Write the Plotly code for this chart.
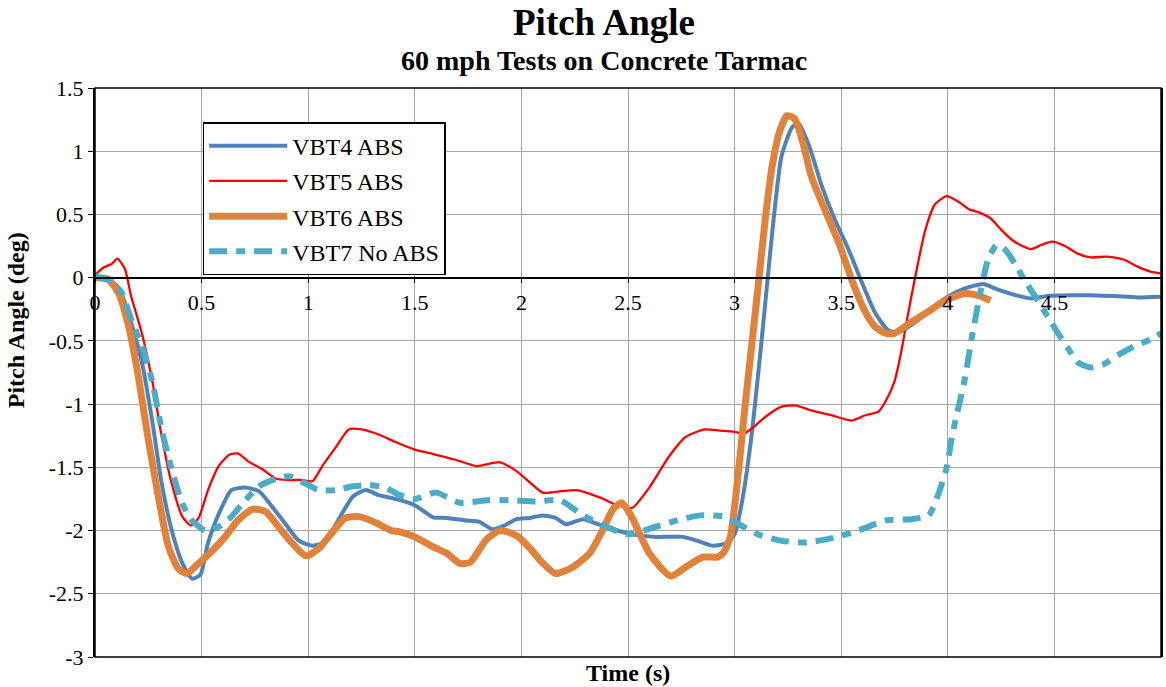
import plotly.graph_objects as go

# ---------------- data ----------------
t_vbt4 = [0, 0.05, 0.1, 0.125, 0.17, 0.22, 0.27, 0.31, 0.36, 0.41, 0.455, 0.494, 0.53, 0.58, 0.64, 0.705,
          0.77, 0.83, 0.89, 0.956, 1.02, 1.08, 1.14, 1.21, 1.27, 1.33, 1.41, 1.5, 1.586, 1.65, 1.742, 1.8,
          1.867, 1.92, 1.977, 2.04, 2.1, 2.16, 2.21, 2.29, 2.36, 2.43, 2.52, 2.63, 2.76, 2.84, 2.9, 2.96,
          3.0, 3.036, 3.08, 3.13, 3.176, 3.22, 3.27, 3.3, 3.35, 3.41, 3.47, 3.535, 3.6, 3.66, 3.72, 3.77,
          3.85, 3.925, 4.0, 4.08, 4.167, 4.22, 4.3, 4.39, 4.47, 4.58, 4.67, 4.78, 4.89, 5.0]
v_vbt4 = [0, -0.01, -0.06, -0.13, -0.36, -0.67, -1.15, -1.6, -2.0, -2.26, -2.38, -2.35, -2.10, -1.87, -1.68, -1.66,
          -1.69, -1.81, -1.94, -2.08, -2.12, -2.09, -1.92, -1.73, -1.68, -1.72, -1.75, -1.80, -1.895, -1.9, -1.92, -1.93,
          -1.99, -1.96, -1.91, -1.9, -1.88, -1.9, -1.95, -1.91, -1.95, -1.99, -2.03, -2.05, -2.05, -2.09, -2.12, -2.1,
          -2.03, -1.76, -1.24, -0.44, 0.35, 0.96, 1.19, 1.22, 1.04, 0.72, 0.46, 0.22, -0.05, -0.28, -0.415, -0.43,
          -0.35, -0.24, -0.15, -0.085, -0.05, -0.085, -0.13, -0.164, -0.145, -0.14, -0.14, -0.145, -0.156, -0.15]

t_vbt5 = [0, 0.04, 0.08, 0.105, 0.14, 0.17, 0.22, 0.27, 0.31, 0.36, 0.41, 0.45, 0.486, 0.53, 0.58, 0.63, 0.67,
          0.72, 0.78, 0.85, 0.91, 0.97, 1.02, 1.066, 1.13, 1.19, 1.25, 1.33, 1.41, 1.5, 1.586, 1.69, 1.79, 1.9,
          1.977, 2.04, 2.1, 2.18, 2.26, 2.37, 2.45, 2.52, 2.6, 2.69, 2.77, 2.86, 2.93, 3.0, 3.04, 3.08, 3.145,
          3.22, 3.285, 3.36, 3.457, 3.55, 3.61, 3.675, 3.72, 3.75, 3.78, 3.81, 3.85, 3.895, 3.94, 3.995, 4.05,
          4.1, 4.14, 4.2, 4.25, 4.3, 4.35, 4.39, 4.44, 4.49, 4.55, 4.61, 4.67, 4.75, 4.83, 4.89, 4.95, 5.0]
v_vbt5 = [0.02, 0.08, 0.11, 0.15, 0.07, -0.15, -0.44, -0.83, -1.23, -1.63, -1.89, -1.96, -1.90, -1.68, -1.49, -1.40, -1.39,
          -1.455, -1.51, -1.59, -1.60, -1.60, -1.61, -1.49, -1.34, -1.20, -1.20, -1.24, -1.30, -1.36, -1.395, -1.44, -1.49, -1.46,
          -1.53, -1.62, -1.70, -1.69, -1.68, -1.74, -1.80, -1.82, -1.66, -1.42, -1.26, -1.20, -1.21, -1.22, -1.235, -1.195, -1.10,
          -1.02, -1.01, -1.05, -1.09, -1.13, -1.09, -1.06, -0.94, -0.82, -0.6, -0.32, 0.03, 0.38, 0.58, 0.645, 0.60,
          0.54, 0.52, 0.47, 0.38, 0.30, 0.25, 0.225, 0.26, 0.285, 0.25, 0.19, 0.16, 0.167, 0.14, 0.087, 0.048, 0.034]

t_vbt6 = [0, 0.06, 0.11, 0.157, 0.2, 0.25, 0.3, 0.345, 0.39, 0.43, 0.486, 0.55, 0.61, 0.67, 0.74, 0.8, 0.86,
          0.925, 0.99, 1.05, 1.11, 1.175, 1.24, 1.32, 1.39, 1.43, 1.5, 1.586, 1.65, 1.71, 1.76, 1.836, 1.9,
          1.977, 2.04, 2.09, 2.16, 2.24, 2.32, 2.38, 2.43, 2.47, 2.52, 2.6, 2.7, 2.77, 2.85, 2.92, 2.95, 2.98,
          3.01, 3.05, 3.1, 3.145, 3.176, 3.21, 3.245, 3.28, 3.32, 3.36, 3.43, 3.49, 3.55, 3.61, 3.66, 3.71,
          3.75, 3.83, 3.925, 4.0, 4.08, 4.14, 4.2]
v_vbt6 = [0.0, -0.01, -0.12, -0.38, -0.75, -1.28, -1.76, -2.13, -2.30, -2.34, -2.26, -2.16, -2.05, -1.92, -1.83, -1.85, -1.97,
          -2.10, -2.20, -2.14, -2.02, -1.90, -1.89, -1.94, -2.0, -2.01, -2.05, -2.13, -2.18, -2.26, -2.25, -2.07, -2.0,
          -2.04, -2.14, -2.24, -2.34, -2.29, -2.18, -2.0, -1.83, -1.78, -1.9, -2.18, -2.36, -2.29, -2.21, -2.21, -2.17, -2.05,
          -1.66, -1.0, -0.23, 0.48, 0.88, 1.15, 1.28, 1.26, 1.07, 0.80, 0.51, 0.27, -0.02, -0.26, -0.39, -0.44,
          -0.44, -0.35, -0.25, -0.17, -0.125, -0.14, -0.18]

t_vbt7 = [0, 0.08, 0.125, 0.17, 0.22, 0.27, 0.31, 0.36, 0.41, 0.455, 0.517, 0.58, 0.64, 0.705, 0.77, 0.85, 0.91,
          0.99, 1.05, 1.13, 1.21, 1.285, 1.36, 1.43, 1.5, 1.6, 1.71, 1.84, 1.94, 2.07, 2.18, 2.29, 2.4, 2.5,
          2.63, 2.73, 2.84, 2.95, 3.02, 3.11, 3.22, 3.33, 3.457, 3.58, 3.71, 3.83, 3.91, 3.956, 3.995, 4.02,
          4.04, 4.08, 4.115, 4.155, 4.19, 4.23, 4.27, 4.315, 4.36, 4.41, 4.47, 4.517, 4.564, 4.61, 4.67, 4.735,
          4.8, 4.89, 4.95, 5.0]
v_vbt7 = [0.01, -0.03, -0.12, -0.33, -0.54, -0.83, -1.18, -1.52, -1.79, -1.92, -2.0, -1.97, -1.89, -1.76, -1.65, -1.59, -1.57,
          -1.63, -1.68, -1.68, -1.65, -1.64, -1.66, -1.72, -1.75, -1.70, -1.78, -1.76, -1.76, -1.77, -1.76, -1.88, -1.97, -2.03,
          -1.97, -1.92, -1.88, -1.89, -1.95, -2.03, -2.08, -2.095, -2.06, -2.0, -1.92, -1.91, -1.88, -1.71, -1.5, -1.25,
          -1.1, -0.8, -0.45, -0.1, 0.15, 0.26, 0.22, 0.11, -0.02, -0.15, -0.31, -0.44, -0.56, -0.67, -0.71, -0.68,
          -0.61, -0.53, -0.49, -0.44]

series_names = ["VBT4 ABS", "VBT5 ABS", "VBT6 ABS", "VBT7 No ABS"]

x_tickvals = [0, 0.5, 1, 1.5, 2, 2.5, 3, 3.5, 4, 4.5, 5]
x_ticktext = ["0", "0.5", "1", "1.5", "2", "2.5", "3", "3.5", "4", "4.5", "5"]
y_tickvals = [-3, -2.5, -2, -1.5, -1, -0.5, 0, 0.5, 1, 1.5]
y_ticktext = ["-3", "-2.5", "-2", "-1.5", "-1", "-0.5", "0", "0.5", "1", "1.5"]

title_text = "Pitch Angle"
subtitle_text = "60 mph Tests on Concrete Tarmac"
x_title = "Time (s)"
y_title = "Pitch Angle (deg)"

# ---------------- figure ----------------
FONT = "Liberation Serif, Times New Roman, serif"
fig = go.Figure()

styles = [
    dict(color="#4F81BD", width=4, dash="solid"),
    dict(color="#FF0000", width=2.3, dash="solid"),
    dict(color="#E0823A", width=7, dash="solid"),
    dict(color="#4BACC6", width=6, dash="18px,9px,9px,9px"),
]
data = [(t_vbt4, v_vbt4), (t_vbt5, v_vbt5), (t_vbt6, v_vbt6), (t_vbt7, v_vbt7)]

for i, ((tx, vy), name, st) in enumerate(zip(data, series_names, styles)):
    fig.add_trace(go.Scatter(
        x=tx, y=vy, mode="lines", name=name, legendgroup=f"g{i}",
        line=dict(color=st["color"], width=st["width"], dash=st["dash"], shape="spline", smoothing=0.6),
    ))

grid = "#A6A6A6"
fig.update_layout(
    width=1166, height=687,
    margin=dict(l=95, r=3, t=88, b=30),
    paper_bgcolor="white", plot_bgcolor="white",
    font=dict(family=FONT, color="black", size=22),
    showlegend=True,
    legend=dict(
        x=0.101, y=0.94, xanchor="left", yanchor="top",
        bgcolor="white", bordercolor="black", borderwidth=1.5,
        font=dict(family=FONT, size=24, color="black"),
        tracegroupgap=1, itemwidth=78,
    ),
    xaxis=dict(
        range=[0, 5], tickvals=x_tickvals, ticktext=x_ticktext,
        showgrid=True, gridcolor=grid, gridwidth=1.3,
        anchor="free", position=2/3,
        showline=True, linecolor="black", linewidth=1.5,
        ticks="outside", ticklen=5, tickcolor="black", tickwidth=1.3,
        tickfont=dict(family=FONT, size=22, color="black"),
        zeroline=False, fixedrange=True,
    ),
    yaxis=dict(
        range=[-3, 1.5], tickvals=y_tickvals, ticktext=y_ticktext,
        showgrid=True, gridcolor=grid, gridwidth=1.3,
        showline=True, linecolor="black", linewidth=2, mirror=True,
        ticks="outside", ticklen=5, tickcolor="black", tickwidth=1.3,
        tickfont=dict(family=FONT, size=22, color="black"),
        zeroline=False, fixedrange=True,
    ),
    shapes=[
        dict(type="rect", xref="paper", yref="paper", x0=0, x1=1, y0=0, y1=1,
             line=dict(color="black", width=1.5), fillcolor="rgba(0,0,0,0)", layer="above"),
    ],
    annotations=[
        dict(text=f"<b>{title_text}</b>", xref="paper", yref="paper", x=0.4775, y=1.1547,
             xanchor="center", yanchor="top", showarrow=False,
             font=dict(family=FONT, size=37, color="black")),
        dict(text=f"<b>{subtitle_text}</b>", xref="paper", yref="paper", x=0.4775, y=1.0492,
             xanchor="center", yanchor="middle", showarrow=False,
             font=dict(family=FONT, size=28, color="black")),
        dict(text=f"<b>{x_title}</b>", xref="paper", yref="paper", x=0.5, y=-0.028,
             xanchor="center", yanchor="middle", showarrow=False,
             font=dict(family=FONT, size=24, color="black")),
        dict(text=f"<b>{y_title}</b>", xref="paper", yref="paper", x=-0.074, y=0.592,
             xanchor="center", yanchor="middle", showarrow=False, textangle=-90,
             font=dict(family=FONT, size=24, color="black")),
    ],
)

fig.write_html("out.html")
